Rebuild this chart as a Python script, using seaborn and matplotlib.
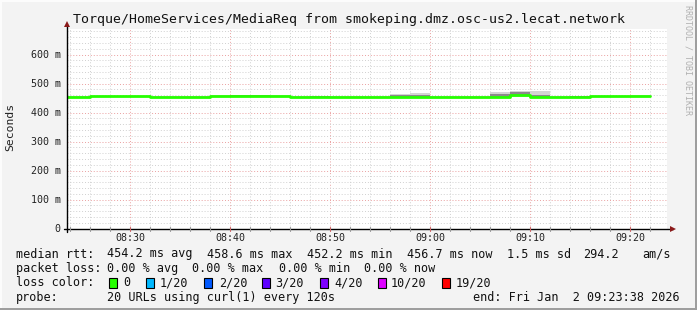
import matplotlib
matplotlib.use("Agg")
import matplotlib.pyplot as plt
import seaborn as sns
import numpy as np
import pandas as pd
from matplotlib.lines import Line2D
from matplotlib.patches import Rectangle

# ---------------- data ----------------
title = "Torque/HomeServices/MediaReq from smokeping.dmz.osc-us2.lecat.network"
step_end = ["08:24", "08:26", "08:28", "08:30", "08:32", "08:34", "08:36", "08:38",
            "08:40", "08:42", "08:44", "08:46", "08:48", "08:50", "08:52", "08:54",
            "08:56", "08:58", "09:00", "09:02", "09:04", "09:06", "09:08", "09:10",
            "09:12", "09:14", "09:16", "09:18", "09:20", "09:22"]
median_ms = [454, 454, 456, 456, 456, 454, 454, 454, 456, 457, 457, 456, 454, 455, 454,
             454, 454, 455, 455, 454, 454, 454, 455, 459, 454, 454, 455, 456, 456, 457]
max_ms = [456, 456, 458, 458, 458, 456, 456, 456, 461, 462, 462, 460, 456, 457, 456,
          456, 456, 465, 466, 456, 456, 456, 472, 476, 474, 456, 457, 458, 458, 459]
min_ms = [452, 452, 453, 453, 453, 452, 452, 452, 453, 454, 454, 453, 452, 452, 452,
          452, 452, 452, 452, 452, 452, 452, 452, 453, 452, 452, 452, 453, 453, 454]
q3_ms = [455, 455, 457, 457, 457, 455, 455, 455, 458, 459, 459, 458, 455, 456, 455,
         455, 455, 459, 460, 455, 455, 455, 463, 470, 461, 455, 456, 457, 457, 458]
q1_ms = [453, 453, 455, 455, 455, 453, 453, 453, 455, 456, 456, 455, 453, 454, 453,
         453, 453, 454, 454, 453, 453, 453, 454, 456, 453, 453, 454, 455, 455, 456]
x_ticks = ["08:30", "08:40", "08:50", "09:00", "09:10", "09:20"]
y_ticks_ms = [0, 100, 200, 300, 400, 500, 600]
y_tick_labels = ["0", "100 m", "200 m", "300 m", "400 m", "500 m", "600 m"]
start_time = "08:23:38"
end_time = "09:23:38"
first_step_start = "08:22"

loss_labels = ["0", "1/20", "2/20", "3/20", "4/20", "10/20", "19/20"]
loss_colors = ["#26ff00", "#00b8ff", "#0059ff", "#5e00ff", "#7e00ff", "#dd00ff", "#ff0000"]

stats_rtt = ["454.2 ms avg", "458.6 ms max", "452.2 ms min", "456.7 ms now", "1.5 ms sd", "294.2", "am/s"]
stats_loss = ["0.00 % avg", "0.00 % max", "0.00 % min", "0.00 % now"]
probe_text = "20 URLs using curl(1) every 120s"
end_text = "end: Fri Jan  2 09:23:38 2026"


def to_min(s):
    parts = [int(p) for p in s.split(":")]
    m = parts[0] * 60 + parts[1]
    if len(parts) > 2:
        m += parts[2] / 60.0
    return m


# ---------------- figure ----------------
W, H = 697, 310
fig = plt.figure(figsize=(W / 100, H / 100), dpi=100)
fig.patch.set_facecolor("#f3f3f3")
sns.set_style("white")
MONO = "DejaVu Sans Mono"


def fx(x):
    return x / W


def fy(y):
    return 1 - y / H


ax_left, ax_right = 66.7, 666.7
ax_bottom, ax_top = 228.5, 28.5
ax = fig.add_axes([fx(ax_left), fy(ax_bottom), (ax_right - ax_left) / W, (ax_bottom - ax_top) / H])
ax.set_facecolor("white")
for s in ax.spines.values():
    s.set_visible(False)

xmin, xmax = to_min(start_time), to_min(end_time)
ax.set_xlim(xmin, xmax)
ax.set_ylim(0, 690)

# grid
minor_x = [to_min(first_step_start) + 2 * i for i in range(1, 32)]
major_x = [to_min(t) for t in x_ticks]
for x in minor_x:
    if xmin < x < xmax and x not in major_x:
        ax.axvline(x, color="#d0d0d0", lw=0.7, ls=(0, (1, 2)), zorder=0)
for x in major_x:
    ax.axvline(x, color="#eaa0a0", lw=0.7, ls=(0, (1, 2)), zorder=0)
for y in range(20, 690, 20):
    if y % 100:
        ax.axhline(y, color="#d0d0d0", lw=0.7, ls=(0, (1, 2)), zorder=0)
for y in y_ticks_ms[1:]:
    ax.axhline(y, color="#eaa0a0", lw=0.7, ls=(0, (1, 2)), zorder=0)

# data frame (steps: value applies to interval ending at step_end)
xs = [to_min(first_step_start)] + [to_min(t) for t in step_end]
df = pd.DataFrame({
    "t": xs,
    "median": [median_ms[0]] + median_ms,
    "mx": [max_ms[0]] + max_ms,
    "mn": [min_ms[0]] + min_ms,
    "q3": [q3_ms[0]] + q3_ms,
    "q1": [q1_ms[0]] + q1_ms,
})
ax.fill_between(df["t"], df["mn"], df["mx"], step="pre", color="#d4d4d4", lw=0, zorder=2)
ax.fill_between(df["t"], df["q1"], df["q3"], step="pre", color="#8a8a8a", lw=0, zorder=3)
sns.lineplot(data=df, x="t", y="median", ax=ax, drawstyle="steps-pre", color=loss_colors[0],
             lw=2.0, estimator=None, zorder=4)
ax.set_xlabel("")
ax.set_ylabel("")
ax.set_xticks([])
ax.set_yticks([])

# axes lines with arrows
fig.add_artist(Line2D([fx(ax_left - 3), fx(673)], [fy(ax_bottom)] * 2, color="black", lw=1))
fig.add_artist(Line2D([fx(ax_left)] * 2, [fy(ax_bottom + 3), fy(25)], color="black", lw=1))
fig.add_artist(Line2D([fx(673)], [fy(ax_bottom)], marker=">", ms=4, color="#8b1a1a", mew=0))
fig.add_artist(Line2D([fx(ax_left)], [fy(24)], marker="^", ms=4, color="#8b1a1a", mew=0))
# tick marks
for x in minor_x:
    if xmin < x < xmax:
        px = ax_left + (x - xmin) / (xmax - xmin) * (ax_right - ax_left)
        col = "#cc6666" if x in major_x else "#999999"
        fig.add_artist(Line2D([fx(px)] * 2, [fy(ax_bottom - 2), fy(ax_bottom + 2)], color=col, lw=0.8))

# tick labels
for t in x_ticks:
    px = ax_left + (to_min(t) - xmin) / (xmax - xmin) * (ax_right - ax_left)
    fig.text(fx(px), fy(238), t, ha="center", va="center", family=MONO, fontsize=7.2, color="#222222")
for v, lab in zip(y_ticks_ms, y_tick_labels):
    py = ax_bottom - v / 690 * (ax_bottom - ax_top)
    fig.text(fx(60.5), fy(py), lab, ha="right", va="center", family=MONO, fontsize=7.2, color="#222222")

fig.text(fx(10), fy(127), "Seconds", rotation=90, ha="center", va="center", family=MONO, fontsize=8.2,
         color="#222222")
fig.text(fx(72.6), fy(19), title, ha="left", va="center", family=MONO, fontsize=9.55, color="#111111")
fig.text(fx(688), fy(5), "RRDTOOL / TOBI OETIKER", rotation=270, ha="center", va="top", family=MONO,
         fontsize=6.0, color="#b0b0b0")

# legend / stats
FS = 8.5
TC = "#111111"
fig.text(fx(15.6), fy(254), "median rtt:", ha="left", va="center", family=MONO, fontsize=FS, color=TC)
for x, s in zip([106.7, 206.7, 306.7, 406.7, 506.7, 583, 642], stats_rtt):
    fig.text(fx(x), fy(254), s, ha="left", va="center", family=MONO, fontsize=FS, color=TC)
fig.text(fx(15.6), fy(268.5), "packet loss:", ha="left", va="center", family=MONO, fontsize=FS, color=TC)
for x, s in zip([106.7, 192, 278.7, 364.4], stats_loss):
    fig.text(fx(x), fy(268.5), s, ha="left", va="center", family=MONO, fontsize=FS, color=TC)
fig.text(fx(15.6), fy(283), "loss color:", ha="left", va="center", family=MONO, fontsize=FS, color=TC)
box_x = [109, 146, 204, 262, 320, 378, 442]
lab_x = [123.6, 160, 218.7, 275.6, 334, 391, 455.6]
for bx, lx, lab, col in zip(box_x, lab_x, loss_labels, loss_colors):
    fig.add_artist(Rectangle((fx(bx), fy(288)), 8 / W, 10 / H, facecolor=col, edgecolor="black", lw=0.8))
    fig.text(fx(lx), fy(283), lab, ha="left", va="center", family=MONO, fontsize=FS, color=TC)
fig.text(fx(15.6), fy(297.5), "probe:", ha="left", va="center", family=MONO, fontsize=FS, color=TC)
fig.text(fx(106.7), fy(297.5), probe_text, ha="left", va="center", family=MONO, fontsize=FS, color=TC)
fig.text(fx(680), fy(297.5), end_text, ha="right", va="center", family=MONO, fontsize=FS, color=TC)

# image frame (rrdtool style)
fig.add_artist(Rectangle((0, 0), 1, 2 / H, facecolor="#9e9e9e", lw=0))
fig.add_artist(Rectangle((1 - 2 / W, 0), 2 / W, 1, facecolor="#9e9e9e", lw=0))
fig.add_artist(Rectangle((0, 1 - 2 / H), 1 - 2 / W, 2 / H, facecolor="#fcfcfc", lw=0))
fig.add_artist(Rectangle((0, 2 / H), 2 / W, 1 - 2 / H, facecolor="#fcfcfc", lw=0))

fig.savefig("out.png", dpi=100, facecolor=fig.get_facecolor())
